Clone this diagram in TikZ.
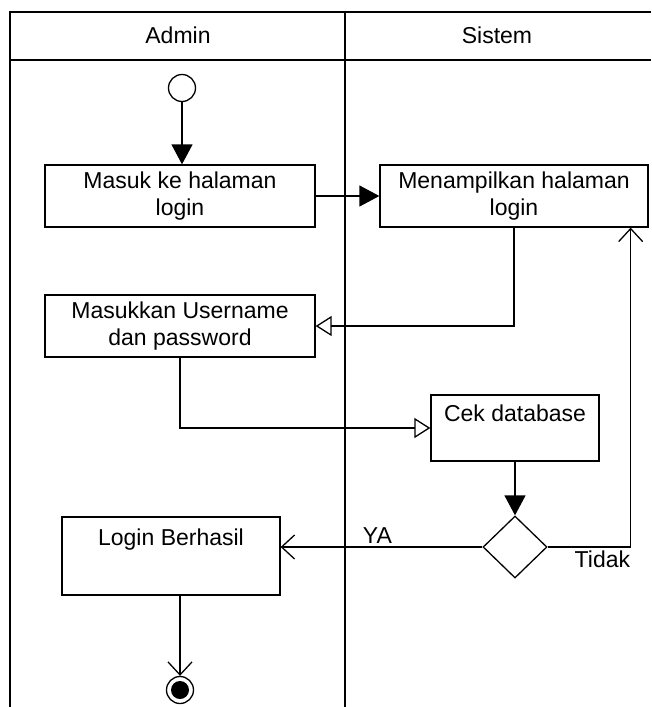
\documentclass[tikz,border=0pt]{standalone}
\usepackage{fontspec}
\setmainfont{Liberation Sans}
\usetikzlibrary{arrows.meta,shapes.geometric}

\begin{document}
\begin{tikzpicture}[x=1pt,y=-1pt,
    font=\fontsize{23}{27}\selectfont,
    aksi/.style={draw,line width=1.3pt,rectangle,align=center,inner sep=4pt},
    flow/.style={line width=1.3pt,-{Triangle[length=20pt,width=21pt]}},
    terbuka/.style={line width=1.3pt,-{Triangle[open,length=16pt,width=20pt,line width=1.3pt]}},
    panah/.style={line width=1.3pt,-{Straight Barb[length=13pt,width=24pt,line width=1.3pt]}}]
    \useasboundingbox (0,0) rectangle (651,707);
    % swimlane
    \draw[line width=1.3pt] (651,12) -- (10,12) -- (10,707);
    \draw[line width=2.8pt] (10,60) -- (651,60);
    \draw[line width=2.8pt] (345,12) -- (345,707);
    \node (hAdmin) at (178,35) {Admin};
    \node (hSistem) at (497,35) {Sistem};
    % aktivitas
    \node[draw,circle,line width=1.3pt,minimum size=27pt,inner sep=0] (start) at (182,88) {};
    \node[aksi,minimum width=270pt,minimum height=62pt] (masuk) at (180,196) {Masuk ke halaman\\login};
    \node[aksi,minimum width=268pt,minimum height=62pt] (tampil) at (514,196) {Menampilkan halaman\\login};
    \node[aksi,minimum width=270pt,minimum height=62pt] (input) at (180,326) {Masukkan Username\\dan password};
    \node[aksi,minimum width=168pt,minimum height=66pt] (cek) at (515,428) {Cek database\\[2pt]~};
    \node[draw,diamond,line width=1.3pt,minimum width=64pt,minimum height=62pt,inner sep=0] (cabang) at (515,547) {};
    \node[aksi,minimum width=218pt,minimum height=78pt] (berhasil) at (171,556) {Login Berhasil\\[10pt]~};
    \node[draw,circle,line width=1.3pt,minimum size=27pt,inner sep=0] (akhir) at (180,690) {};
    \fill (akhir) circle (9);
    % alur
    \draw[flow] (start) -- (start |- masuk.north);
    \draw[flow] (masuk) -- (tampil);
    \draw[terbuka] (tampil.south) |- (input.east);
    \draw[terbuka] (input.south) |- (cek.west);
    \draw[flow] (cek) -- (cabang);
    \draw[panah] (cabang.east) -| ([xshift=-18pt]tampil.south east) node[pos=0.33,below]{Tidak};
    \draw[panah] (cabang.west) -- (cabang.west -| berhasil.east) node[pos=0.52,above]{YA};
    \draw[panah] (akhir |- berhasil.south) -- (akhir);
\end{tikzpicture}
\end{document}
